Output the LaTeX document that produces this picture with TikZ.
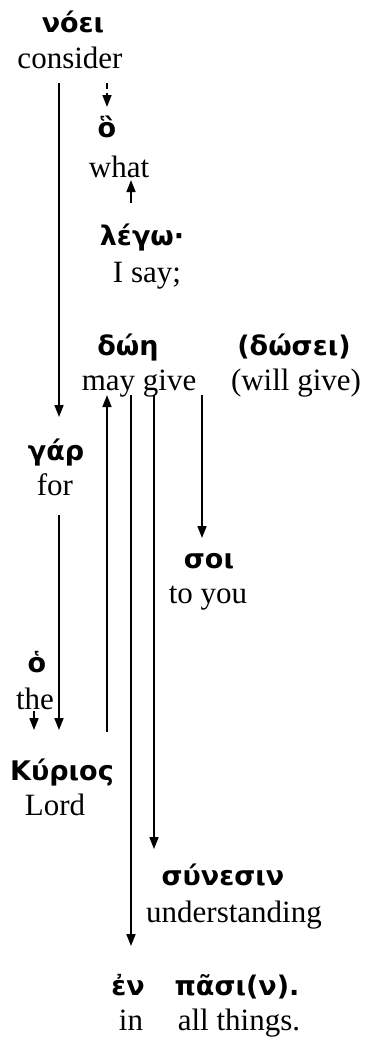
\documentclass[tikz,border=0pt]{standalone}
\usepackage{fontspec}
\setmainfont{Liberation Serif}
\newfontfamily\grfont{DejaVu Sans}
\usetikzlibrary{arrows.meta,positioning}

\tikzset{
  gr/.style={font=\grfont\bfseries\fontsize{27}{31}\selectfont, anchor=base, inner sep=0pt},
  en/.style={font=\fontsize{31}{36}\selectfont, anchor=base, inner sep=0pt},
  arr/.style={line width=1.7pt, -{Triangle[length=12pt,width=9pt]}},
}

\begin{document}
\begin{tikzpicture}[x=1pt,y=-1pt]
  \useasboundingbox (0,0) rectangle (369,1039);

  % word pairs: greek above, english below
  \node[gr] (noei) at (73,32) {νόει};
  \node[en] (consider) at (70,68) {consider};
  \node[gr] (ho) at (107,137) {ὃ};
  \node[en] (what) at (119,177) {what};
  \node[gr] (lego) at (142,245) {λέγω·};
  \node[en] (isay) at (147,282) {I say;};
  \node[gr] (doe) at (128,355) {δώη};
  \node[en] (maygive) at (139,390) {may give};
  \node[gr] (dosei) at (294,355) {(δώσει)};
  \node[en] (willgive) at (296,390) {(will give)};
  \node[gr] (gar) at (56,460) {γάρ};
  \node[en] (for) at (55,495) {for};
  \node[gr] (soi) at (209,568) {σοι};
  \node[en] (toyou) at (208,603) {to you};
  \node[gr] (article) at (37,672) {ὁ};
  \node[en] (the) at (35,709) {the};
  \node[gr] (kyrios) at (62,780) {Κύριος};
  \node[en] (lord) at (55,815) {Lord};
  \node[gr] (synesin) at (223,885) {σύνεσιν};
  \node[en] (understanding) at (234,922) {understanding};
  \node[gr] (en) at (128,995) {ἐν};
  \node[en] (in) at (131,1030) {in};
  \node[gr] (pasi) at (237,995) {πᾶσι(ν).};
  \node[en] (allthings) at (239,1030) {all things.};

  % columns for the vertical links
  \coordinate (colthe) at (34,0);
  \coordinate (colfor) at (59,0);
  \coordinate (colwhat) at (107,0);
  \coordinate (colsay) at (131,0);
  \coordinate (colund) at (154,0);
  \coordinate (coltoyou) at (202,0);

  \draw[arr] ([yshift=-15pt]consider.base -| colfor) -- ([yshift=43pt]gar.base -| colfor);
  \draw[arr, dash pattern=on 6pt off 4pt] ([yshift=-15pt]consider.base -| colwhat) -- ([yshift=30pt]ho.base -| colwhat);
  \draw[arr] ([yshift=42pt]lego.base -| colsay) -- ([yshift=-3pt]what.base -| colsay);
  \draw[arr] ([yshift=48pt]kyrios.base -| colwhat) -- ([yshift=-5pt]maygive.base -| colwhat);
  \draw[arr] ([yshift=-5pt]maygive.base -| colsay) -- ([yshift=49pt]en.base -| colsay);
  \draw[arr] ([yshift=-5pt]maygive.base -| colund) -- ([yshift=36pt]synesin.base -| colund);
  \draw[arr] ([yshift=-5pt]maygive.base -| coltoyou) -- ([yshift=30pt]soi.base -| coltoyou);
  \draw[arr] ([yshift=-20pt]for.base -| colfor) -- ([yshift=50pt]kyrios.base -| colfor);
  \draw[arr] ([yshift=-2pt]the.base -| colthe) -- ([yshift=50pt]kyrios.base -| colthe);
\end{tikzpicture}
\end{document}
